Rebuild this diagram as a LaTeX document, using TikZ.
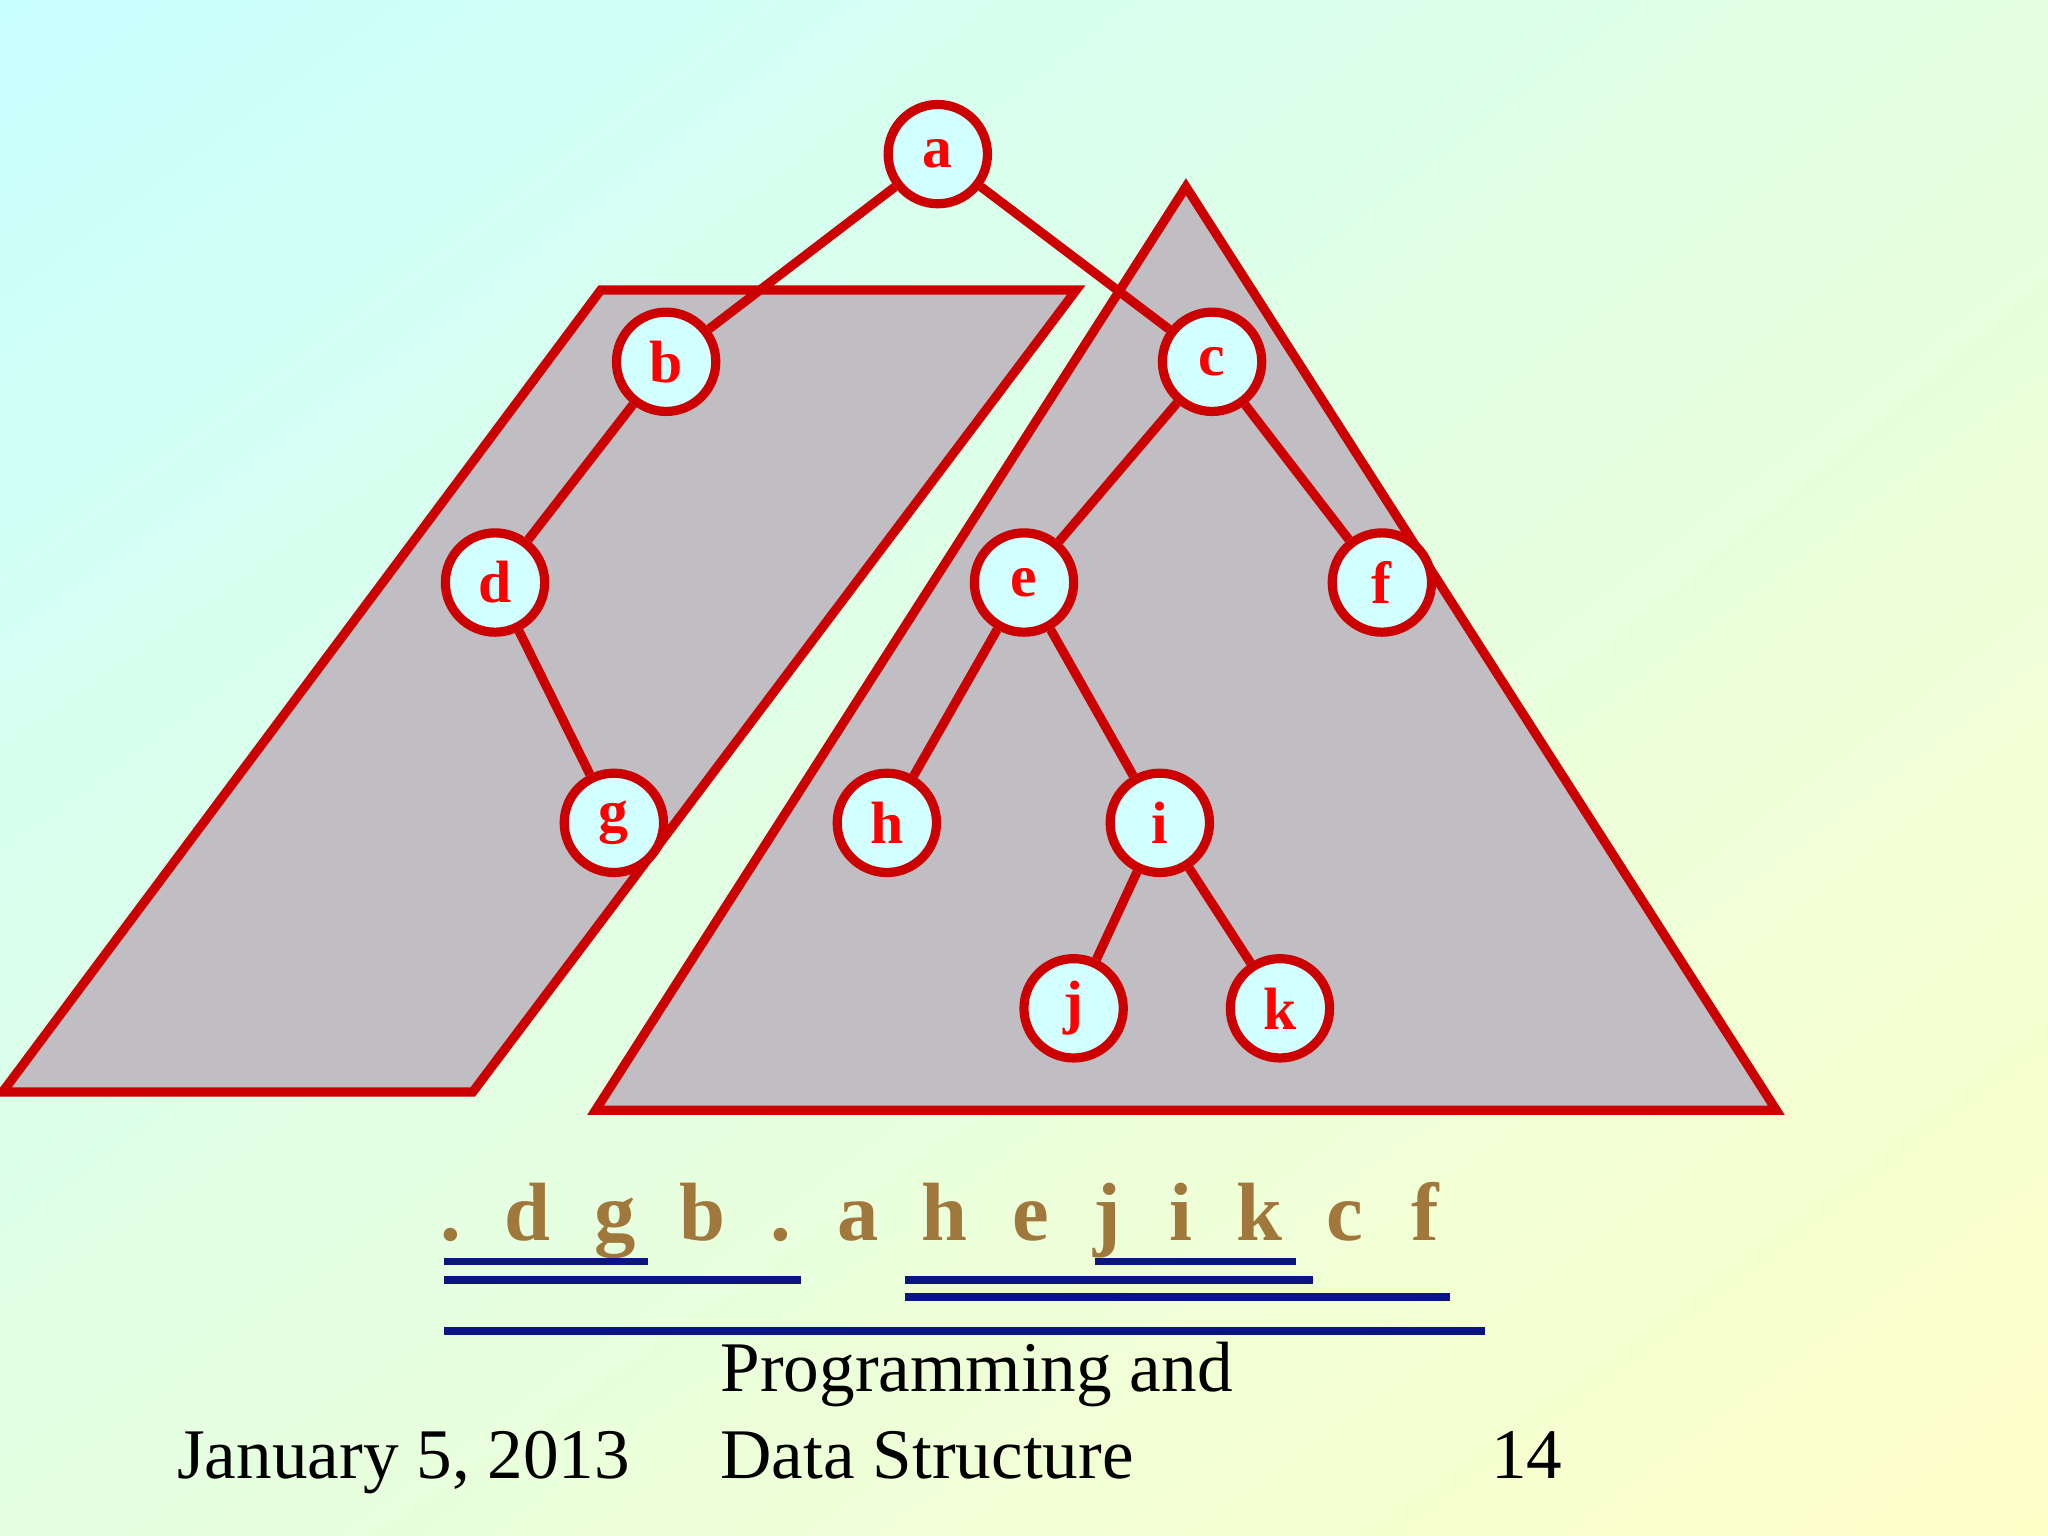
\documentclass[tikz,border=0pt]{standalone}
\usepackage{fontspec}
\setmainfont{Liberation Serif}
\usetikzlibrary{shadings}
\begin{document}
\begin{tikzpicture}[x=0.01cm,y=-0.01cm,
  tn/.style={circle,draw=red!80!black,line width=2pt,fill=nodecyan,minimum size=0.76cm,inner sep=0pt,text=red,font=\bfseries\fontsize{13}{13}\selectfont},
  ed/.style={draw=red!80!black,line width=2pt},
  shp/.style={draw=red!80!black,line width=2pt,fill=shgray},
  ul/.style={draw=navy,line width=1.6pt},
  rl/.style={text=brownish,font=\bfseries\fontsize{18}{18}\selectfont,anchor=base},
  ft/.style={font=\fontsize{15.5}{19}\selectfont,anchor=base west,inner sep=0pt}]
\definecolor{nodecyan}{RGB}{210,255,255}
\definecolor{shgray}{RGB}{192,190,194}
\definecolor{navy}{RGB}{10,20,130}
\definecolor{brownish}{RGB}{160,120,60}
\definecolor{bgA}{RGB}{200,255,255}
\definecolor{bgB}{RGB}{228,255,225}
\definecolor{bgC}{RGB}{255,255,200}
\useasboundingbox (0,0) rectangle (1568,1176);
\shade[upper left=bgA,upper right=bgB,lower left=bgB,lower right=bgC] (0,0) rectangle (1568,1176);
\draw[shp] (460,222) -- (824,222) -- (362,836) -- (2,836) -- cycle;
\draw[shp] (908,143) -- (1360,850) -- (456,850) -- cycle;
\node[tn] (a) at (718,118) {a};
\node[tn] (b) at (510,277) {b};
\node[tn] (c) at (928,277) {c};
\node[tn] (d) at (379,446) {d};
\node[tn] (e) at (784,446) {e};
\node[tn] (f) at (1058,446) {f};
\node[tn] (g) at (470,630) {g};
\node[tn] (h) at (679,630) {h};
\node[tn] (i) at (888,630) {i};
\node[tn] (j) at (822,772) {j};
\node[tn] (k) at (980,772) {k};
\draw[ed] (a)--(b) (a)--(c) (b)--(d) (d)--(g) (c)--(e) (c)--(f) (e)--(h) (e)--(i) (i)--(j) (i)--(k);
\foreach \x/\t [count=\n] in {345/.,404/d,471/g,538/b,598/.,657/a,723/h,789/e,848/j,904/i,964/k,1030/c,1091/f}
  \node[rl] (r\n) at (\x,950) {\t};
\coordinate (u1a) at (340,966); \coordinate (u1b) at (496,966);
\coordinate (u2a) at (340,980); \coordinate (u2b) at (613,980);
\coordinate (u3a) at (838,966); \coordinate (u3b) at (992,966);
\coordinate (u4a) at (693,980); \coordinate (u4b) at (1005,980);
\coordinate (u5a) at (693,993); \coordinate (u5b) at (1110,993);
\coordinate (u6a) at (340,1019); \coordinate (u6b) at (1137,1019);
\foreach \n in {1,...,6} \draw[ul] (u\n a) -- (u\n b);
\node[ft] (date) at (135,1132) {January 5, 2013};
\node[ft,align=left] (title) at (551,1132) {Programming and\\Data Structure};
\node[ft] (pg) at (1141,1132) {14};
\end{tikzpicture}
\end{document}
